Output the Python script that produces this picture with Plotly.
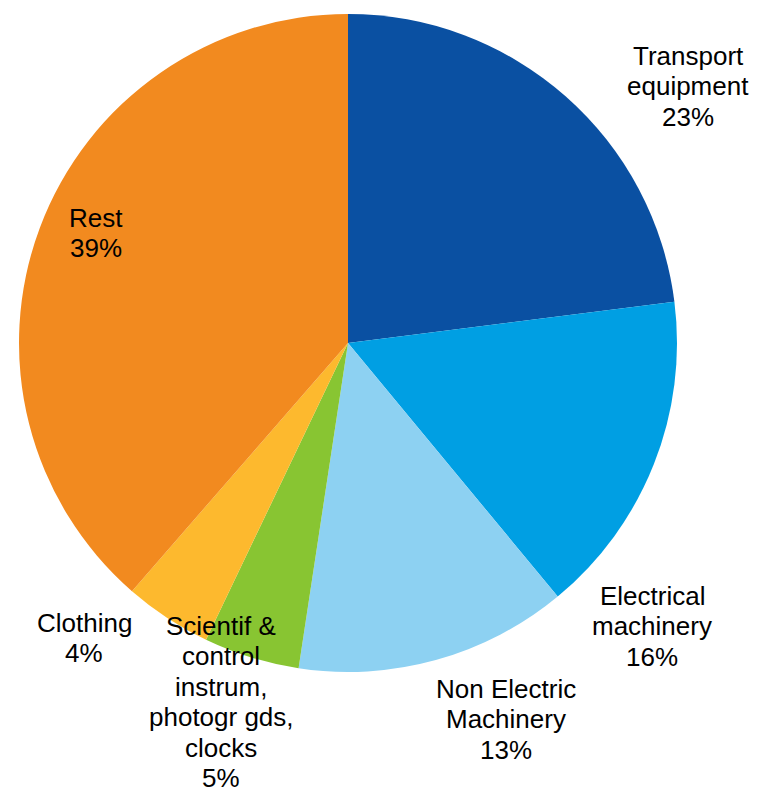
import plotly.graph_objects as go

categories = ["Transport<br>equipment", "Electrical<br>machinery", "Non Electric<br>Machinery",
              "Scientif &<br>control<br>instrum,<br>photogr gds,<br>clocks", "Clothing", "Rest"]
values = [23.0, 16.0, 13.4, 4.7, 4.3, 38.6]
colors = ["#0A50A2", "#009FE3", "#8DD1F2", "#88C532", "#FDB92E", "#F28A1F"]

# label anchor positions in page pixels (layout only)
label_pos = [(688, 86), (652, 626), (506, 719), (221, 702), (84, 638), (96, 233)]

OFF = 8  # default page body margin
W, H = 759 - OFF, 790 - OFF
cx, cy, R = 348 - OFF, 343 - OFF, 329

fig = go.Figure(go.Pie(
    labels=categories, values=values, sort=False, direction="clockwise", rotation=0,
    marker=dict(colors=colors, line=dict(width=0)), textinfo="none", hoverinfo="label+percent",
    domain=dict(x=[(cx - R) / W, (cx + R) / W], y=[(H - (cy + R)) / H, (H - (cy - R)) / H]),
    showlegend=False,
))

total = sum(values)
annotations = []
line_h = 30.5
for cat, v, (px, py) in zip(categories, values, label_pos):
    lines = cat.split("<br>") + [f"{round(v / total * 100)}%"]
    n = len(lines)
    for i, ln in enumerate(lines):
        annotations.append(dict(
            x=(px - OFF) / W, y=1 - (py - OFF) / H, xref="paper", yref="paper", text=ln,
            showarrow=False, xanchor="center", yanchor="middle",
            yshift=-(i - (n - 1) / 2) * line_h,
            font=dict(family="Liberation Sans, Arial", size=26, color="#000000"),
        ))

fig.update_layout(
    width=W, height=H, margin=dict(l=0, r=0, t=0, b=0),
    paper_bgcolor="white", plot_bgcolor="white", annotations=annotations,
)
fig.write_html("out.html")
